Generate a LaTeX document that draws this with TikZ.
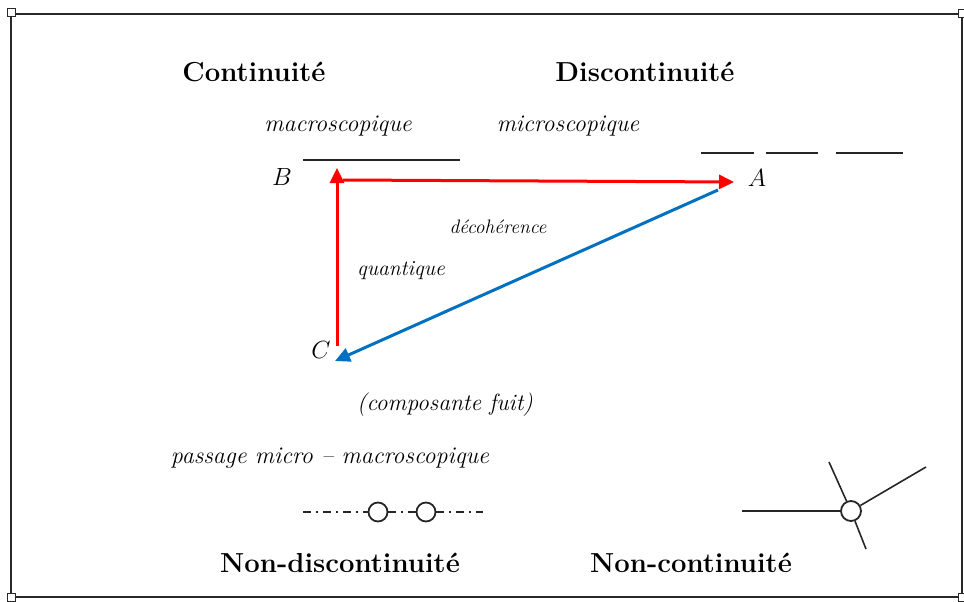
\documentclass[tikz,border=0pt]{standalone}
\usetikzlibrary{arrows.meta}
\definecolor{arrred}{RGB}{255,0,0}
\definecolor{arrblue}{RGB}{0,112,192}
\definecolor{framegray}{RGB}{40,40,40}
\begin{document}
\begin{tikzpicture}[x=1pt,y=-1pt,
  bold/.style={font=\fontsize{27.5}{30}\selectfont\bfseries, inner sep=0pt},
  ital/.style={font=\fontsize{24}{27}\selectfont\itshape, inner sep=0pt},
  smallital/.style={font=\fontsize{21.5}{24}\selectfont\itshape, inner sep=0pt},
  letter/.style={font=\fontsize{31}{33}\selectfont, inner sep=0pt},
  redarrow/.style={draw=arrred, line width=3pt, -{Triangle[length=15pt,width=14pt]}},
  bluearrow/.style={draw=arrblue, line width=3pt, -{Triangle[length=15pt,width=14pt]}},
  thinline/.style={draw=black!85, line width=1.6pt},
  ring/.style={circle, draw=black!85, line width=1.8pt, minimum size=19pt, inner sep=0pt, fill=white},
  handle/.style={draw=framegray, line width=1pt, fill=white},
  dashdot/.style={draw=black!85, line width=1.5pt, dash pattern=on 8pt off 5pt on 2pt off 5pt}
]
\useasboundingbox (0,0) rectangle (964,602);
% frame
\draw[draw=framegray, line width=2pt] (11,14) rectangle (962,597);
\draw[handle] (7,9) rectangle (15,17);
\draw[handle] (958,10) rectangle (966,18);
\draw[handle] (7,593) rectangle (15,601);
\draw[handle] (958,593) rectangle (966,601);

% headings
\node[bold] (cont) at (254,72) {Continuité};
\node[bold] (disc) at (645,72) {Discontinuité};
\node[ital] (macro) at (338,126) {macroscopique};
\node[ital] (micro) at (568,126) {microscopique};

% underlines
\coordinate (u1a) at (303,160); \coordinate (u1b) at (460,160);
\draw[thinline] (u1a) -- (u1b);
\coordinate (u2a) at (701,153); \coordinate (u2b) at (754,153);
\coordinate (u3a) at (766,153); \coordinate (u3b) at (818,153);
\coordinate (u4a) at (836,153); \coordinate (u4b) at (903,153);
\draw[thinline] (u2a) -- (u2b);
\draw[thinline] (u3a) -- (u3b);
\draw[thinline] (u4a) -- (u4b);

% letters
\node[letter] (B) at (282,177) {$B$};
\node[letter] (A) at (757,178) {$A$};
\node[letter] (C) at (321,350) {$C$};

% arrow endpoints
\coordinate (Bs) at (343,180);
\coordinate (Ae) at (734,182);
\coordinate (Cs) at (337,346);
\coordinate (Be) at (337,168);
\coordinate (As) at (718,190);
\coordinate (Ce) at (335,361);

\draw[redarrow] (Bs) -- (Ae);
\draw[redarrow] (Cs) -- (Be);
\draw[bluearrow] (As) -- (Ce);

\node[smallital, font=\fontsize{19.5}{22}\selectfont\itshape] (deco) at (498,227) {décohérence};
\node[smallital] (quant) at (401,271) {quantique};
\node[ital, font=\fontsize{23.5}{26}\selectfont\itshape] (comp) at (445,405) {(composante fuit)};
\node[ital] (pass) at (330,458) {passage micro -- macroscopique};

% dash-dot with rings
\coordinate (dl) at (303,512);
\node[ring] (r1) at (378,512) {};
\node[ring] (r2) at (426,512) {};
\coordinate (dr) at (483,512);
\draw[dashdot] (dl) -- (r1);
\draw[dashdot] (r1) -- (r2);
\draw[dashdot] (r2) -- (dr);

% junction symbol
\node[ring, minimum size=20pt] (hub) at (851,511) {};
\coordinate (jw) at (742,511);
\coordinate (jnw) at (829,462);
\coordinate (jne) at (926,467);
\coordinate (js) at (866,549);
\draw[thinline] (jw) -- (hub);
\draw[thinline] (jnw) -- (hub);
\draw[thinline] (jne) -- (hub);
\draw[thinline] (js) -- (hub);

\node[bold] (nondisc) at (340,563) {Non-discontinuité};
\node[bold] (noncont) at (691,563) {Non-continuité};
\end{tikzpicture}
\end{document}
